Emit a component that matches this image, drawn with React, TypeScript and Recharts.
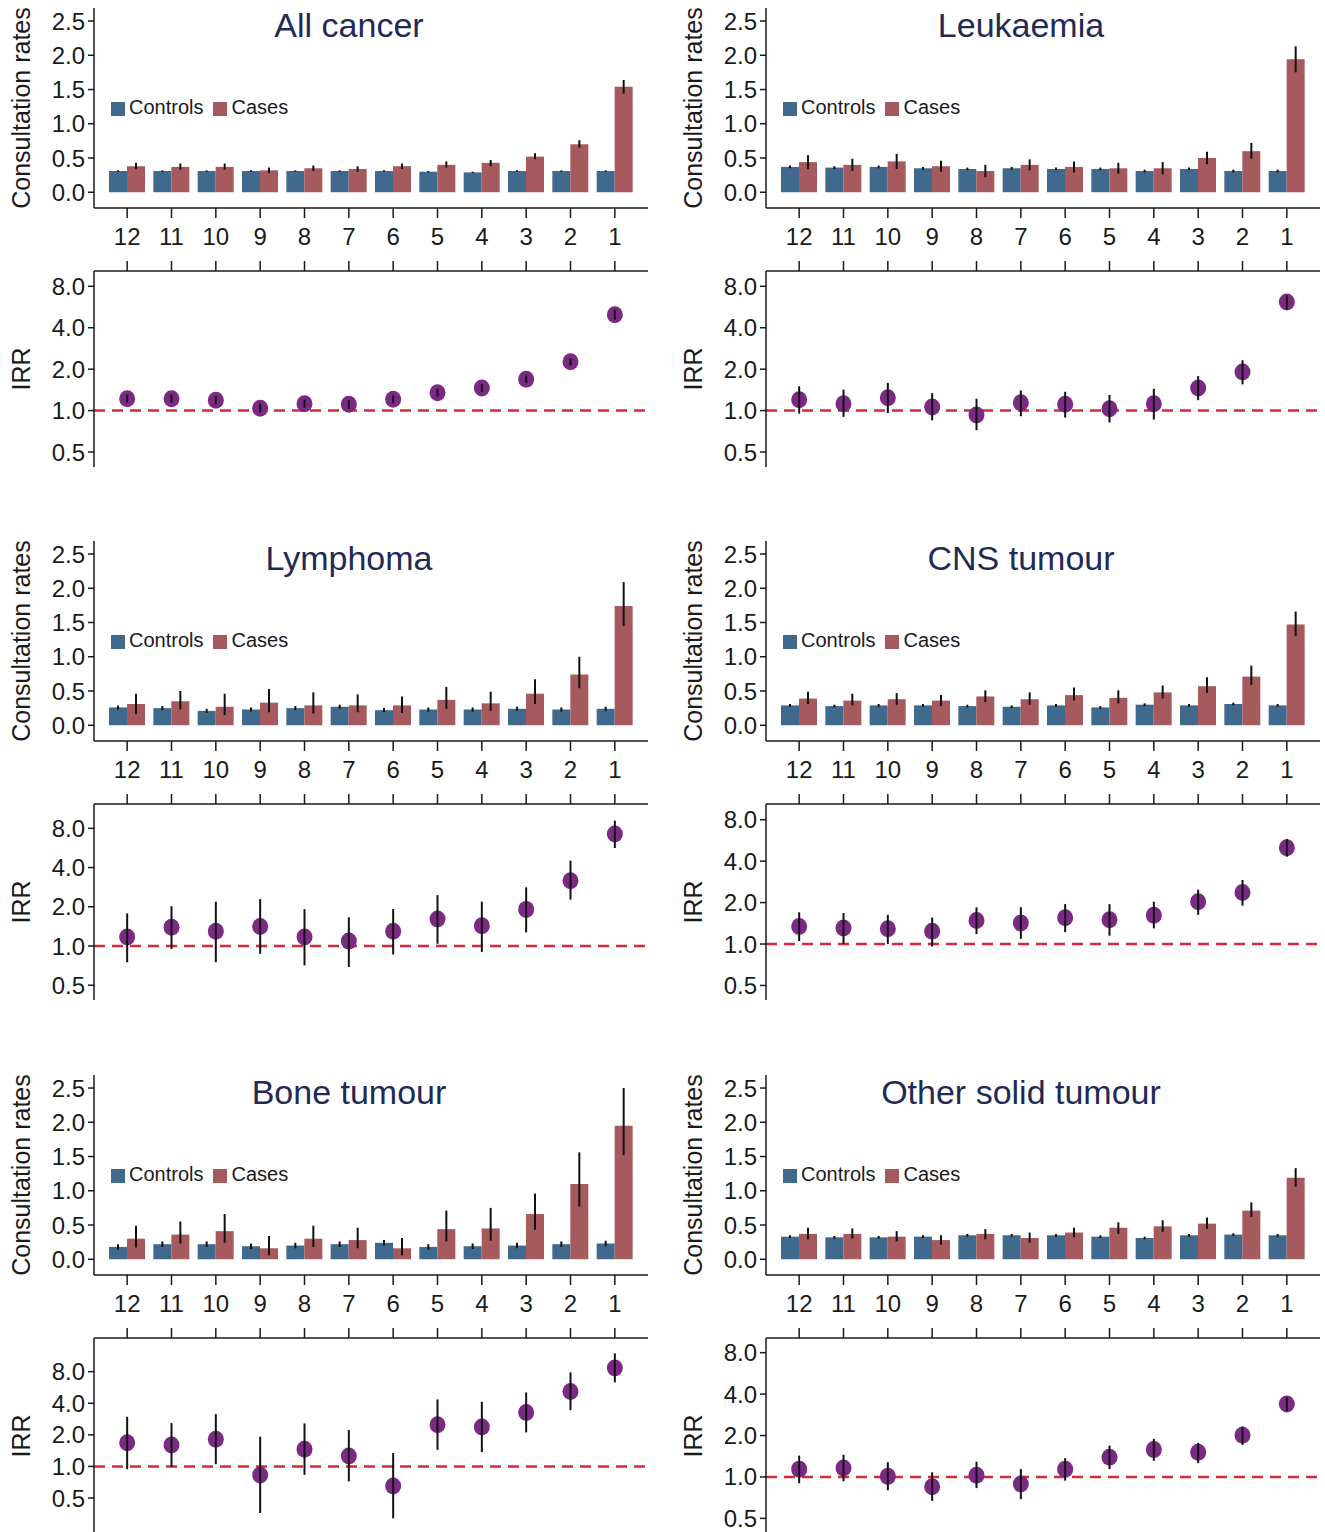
import React from "react";
import { Bar, ComposedChart, ErrorBar, Legend, ReferenceLine, Scatter, XAxis, YAxis } from "recharts";

const months = ["12", "11", "10", "9", "8", "7", "6", "5", "4", "3", "2", "1"];
const rateTicks = [0, 0.5, 1, 1.5, 2, 2.5];
const irrTicks = [0.5, 1, 2, 4, 8];

// All cancer
const allControls = [0.31, 0.31, 0.31, 0.31, 0.31, 0.31, 0.31, 0.3, 0.29, 0.31, 0.31, 0.31];
const allControlsErr = [0.01, 0.01, 0.01, 0.01, 0.01, 0.01, 0.01, 0.01, 0.01, 0.01, 0.01, 0.01];
const allCases = [0.38, 0.37, 0.37, 0.32, 0.35, 0.34, 0.38, 0.4, 0.43, 0.52, 0.7, 1.54];
const allCasesLo = [0.34, 0.33, 0.33, 0.28, 0.31, 0.3, 0.34, 0.36, 0.38, 0.48, 0.65, 1.44];
const allCasesHi = [0.43, 0.42, 0.42, 0.36, 0.39, 0.38, 0.42, 0.45, 0.47, 0.57, 0.76, 1.64];
const allIrr = [1.22, 1.22, 1.19, 1.04, 1.12, 1.11, 1.21, 1.35, 1.46, 1.69, 2.26, 4.98];
const allIrrLo = [1.14, 1.14, 1.11, 0.97, 1.05, 1.03, 1.13, 1.26, 1.37, 1.59, 2.13, 4.58];
const allIrrHi = [1.31, 1.31, 1.28, 1.12, 1.2, 1.19, 1.29, 1.44, 1.56, 1.8, 2.4, 5.4];

// Leukaemia
const leukControls = [0.37, 0.36, 0.37, 0.35, 0.34, 0.35, 0.34, 0.34, 0.31, 0.34, 0.31, 0.31];
const leukControlsErr = [0.02, 0.02, 0.02, 0.02, 0.02, 0.02, 0.02, 0.02, 0.02, 0.02, 0.02, 0.02];
const leukCases = [0.44, 0.4, 0.45, 0.38, 0.31, 0.4, 0.37, 0.35, 0.35, 0.5, 0.6, 1.94];
const leukCasesLo = [0.34, 0.31, 0.34, 0.3, 0.22, 0.32, 0.29, 0.27, 0.26, 0.41, 0.49, 1.75];
const leukCasesHi = [0.54, 0.49, 0.56, 0.46, 0.4, 0.48, 0.45, 0.43, 0.44, 0.59, 0.72, 2.13];
const leukIrr = [1.2, 1.12, 1.24, 1.06, 0.93, 1.14, 1.11, 1.03, 1.12, 1.46, 1.91, 6.16];
const leukIrrLo = [0.95, 0.9, 0.96, 0.85, 0.72, 0.91, 0.89, 0.82, 0.86, 1.19, 1.55, 5.42];
const leukIrrHi = [1.5, 1.42, 1.59, 1.34, 1.22, 1.4, 1.37, 1.3, 1.44, 1.78, 2.32, 6.88];

// Lymphoma
const lymControls = [0.26, 0.25, 0.21, 0.23, 0.25, 0.27, 0.22, 0.23, 0.23, 0.24, 0.23, 0.24];
const lymControlsErr = [0.03, 0.03, 0.03, 0.03, 0.03, 0.03, 0.03, 0.03, 0.03, 0.03, 0.03, 0.03];
const lymCases = [0.31, 0.35, 0.27, 0.33, 0.29, 0.29, 0.29, 0.37, 0.32, 0.46, 0.74, 1.74];
const lymCasesLo = [0.16, 0.23, 0.15, 0.19, 0.17, 0.19, 0.18, 0.24, 0.21, 0.31, 0.54, 1.45];
const lymCasesHi = [0.46, 0.5, 0.46, 0.53, 0.48, 0.45, 0.42, 0.56, 0.49, 0.67, 1.0, 2.09];
const lymIrr = [1.17, 1.39, 1.3, 1.41, 1.17, 1.09, 1.3, 1.61, 1.43, 1.91, 3.17, 7.23];
const lymIrrLo = [0.75, 0.95, 0.75, 0.87, 0.71, 0.69, 0.86, 1.04, 0.9, 1.27, 2.27, 5.65];
const lymIrrHi = [1.78, 2.02, 2.19, 2.29, 1.92, 1.66, 1.92, 2.46, 2.19, 2.82, 4.52, 9.16];

// CNS tumour
const cnsControls = [0.29, 0.28, 0.29, 0.29, 0.28, 0.27, 0.29, 0.26, 0.3, 0.29, 0.31, 0.29];
const cnsControlsErr = [0.02, 0.02, 0.02, 0.02, 0.02, 0.02, 0.02, 0.02, 0.02, 0.02, 0.02, 0.02];
const cnsCases = [0.39, 0.36, 0.38, 0.36, 0.42, 0.38, 0.44, 0.4, 0.48, 0.57, 0.71, 1.47];
const cnsCasesLo = [0.31, 0.29, 0.3, 0.28, 0.34, 0.3, 0.36, 0.32, 0.39, 0.47, 0.59, 1.3];
const cnsCasesHi = [0.49, 0.46, 0.47, 0.44, 0.51, 0.48, 0.55, 0.51, 0.58, 0.7, 0.87, 1.66];
const cnsIrr = [1.34, 1.31, 1.29, 1.24, 1.48, 1.42, 1.55, 1.5, 1.62, 2.03, 2.37, 5.01];
const cnsIrrLo = [1.05, 1.0, 1.0, 0.96, 1.18, 1.09, 1.22, 1.15, 1.3, 1.63, 1.9, 4.31];
const cnsIrrHi = [1.7, 1.68, 1.63, 1.56, 1.85, 1.85, 1.95, 1.95, 2.03, 2.48, 2.92, 5.8];

// Bone tumour
const boneControls = [0.18, 0.22, 0.22, 0.19, 0.2, 0.22, 0.24, 0.18, 0.19, 0.2, 0.22, 0.23];
const boneControlsErr = [0.04, 0.04, 0.04, 0.04, 0.04, 0.04, 0.04, 0.04, 0.04, 0.04, 0.04, 0.04];
const boneCases = [0.3, 0.36, 0.41, 0.16, 0.3, 0.28, 0.16, 0.44, 0.45, 0.66, 1.1, 1.95];
const boneCasesLo = [0.17, 0.23, 0.24, 0.06, 0.18, 0.16, 0.06, 0.26, 0.27, 0.43, 0.77, 1.52];
const boneCasesHi = [0.49, 0.55, 0.66, 0.34, 0.49, 0.46, 0.31, 0.71, 0.75, 0.96, 1.56, 2.5];
const boneIrr = [1.68, 1.6, 1.82, 0.83, 1.46, 1.26, 0.65, 2.5, 2.37, 3.27, 5.19, 8.65];
const boneIrrLo = [0.94, 0.99, 1.05, 0.36, 0.83, 0.72, 0.32, 1.44, 1.37, 2.11, 3.44, 6.32];
const boneIrrHi = [2.97, 2.59, 3.15, 1.92, 2.57, 2.22, 1.34, 4.35, 4.13, 5.07, 7.87, 11.94];

// Other solid tumour
const othControls = [0.33, 0.32, 0.32, 0.33, 0.35, 0.35, 0.35, 0.33, 0.31, 0.35, 0.36, 0.35];
const othControlsErr = [0.02, 0.02, 0.02, 0.02, 0.02, 0.02, 0.02, 0.02, 0.02, 0.02, 0.02, 0.02];
const othCases = [0.37, 0.37, 0.33, 0.28, 0.37, 0.31, 0.39, 0.46, 0.48, 0.52, 0.71, 1.19];
const othCasesLo = [0.29, 0.3, 0.26, 0.21, 0.29, 0.24, 0.32, 0.37, 0.4, 0.44, 0.62, 1.06];
const othCasesHi = [0.46, 0.45, 0.41, 0.35, 0.44, 0.39, 0.46, 0.54, 0.57, 0.61, 0.83, 1.33];
const othIrr = [1.14, 1.16, 1.01, 0.85, 1.03, 0.89, 1.14, 1.39, 1.58, 1.51, 2.01, 3.39];
const othIrrLo = [0.9, 0.93, 0.8, 0.67, 0.83, 0.69, 0.94, 1.14, 1.31, 1.26, 1.71, 3.0];
const othIrrHi = [1.43, 1.45, 1.28, 1.08, 1.29, 1.14, 1.37, 1.69, 1.89, 1.77, 2.33, 3.79];

const BLUE = "#3f6a8e";
const RED = "#a65a5e";
const PURPLE = "#7b2a83";
const DASH = "#d42a3c";
const INK = "#1a1a1a";
const TITLE = "#1f2a55";
const CW = 660;
const COLS = [0, 672];
const ROWS = [0, 533, 1067];

const panels = [
  { title: "All cancer", col: 0, row: 0, controls: allControls, controlsErr: allControlsErr, cases: allCases, casesLo: allCasesLo, casesHi: allCasesHi, irr: allIrr, irrLo: allIrrLo, irrHi: allIrrHi, irrDomain: [0.389, 10.34] },
  { title: "Leukaemia", col: 1, row: 0, controls: leukControls, controlsErr: leukControlsErr, cases: leukCases, casesLo: leukCasesLo, casesHi: leukCasesHi, irr: leukIrr, irrLo: leukIrrLo, irrHi: leukIrrHi, irrDomain: [0.389, 10.34] },
  { title: "Lymphoma", col: 0, row: 1, controls: lymControls, controlsErr: lymControlsErr, cases: lymCases, casesLo: lymCasesLo, casesHi: lymCasesHi, irr: lymIrr, irrLo: lymIrrLo, irrHi: lymIrrHi, irrDomain: [0.385, 12.3] },
  { title: "CNS tumour", col: 1, row: 1, controls: cnsControls, controlsErr: cnsControlsErr, cases: cnsCases, casesLo: cnsCasesLo, casesHi: cnsCasesHi, irr: cnsIrr, irrLo: cnsIrrLo, irrHi: cnsIrrHi, irrDomain: [0.392, 10.41] },
  { title: "Bone tumour", col: 0, row: 2, controls: boneControls, controlsErr: boneControlsErr, cases: boneCases, casesLo: boneCasesLo, casesHi: boneCasesHi, irr: boneIrr, irrLo: boneIrrLo, irrHi: boneIrrHi, irrDomain: [0.227, 16.75] },
  { title: "Other solid tumour", col: 1, row: 2, controls: othControls, controlsErr: othControlsErr, cases: othCases, casesLo: othCasesLo, casesHi: othCasesHi, irr: othIrr, irrLo: othIrrLo, irrHi: othIrrHi, irrDomain: [0.385, 10.23] },
];

type Panel = (typeof panels)[number];

const axisStyle = { stroke: INK, strokeWidth: 1.5 };
const tickStyle = { fill: INK, fontSize: 24 };
const hidden = { stroke: "none" };

function sideLabel(text: string) {
  return (props: any) => {
    const vb = props.viewBox || {};
    const x = (vb.x ?? 0) + 21;
    const y = (vb.y ?? 0) + (vb.height ?? 0) / 2;
    return (
      <text x={x} y={y} transform={`rotate(-90 ${x} ${y})`} textAnchor="middle" dominantBaseline="central" fontSize={25} fill={INK}>
        {text}
      </text>
    );
  };
}

const Dot = (props: any) => <ellipse cx={props.cx} cy={props.cy} rx={8} ry={8.5} fill={PURPLE} />;
const NoDot = () => <g />;

function RatesChart({ p }: { p: Panel }) {
  const rows = months.map((m, i) => ({
    month: m,
    controls: p.controls[i],
    controlsErr: p.controlsErr[i],
    cases: p.cases[i],
    casesErr: [p.cases[i] - p.casesLo[i], p.casesHi[i] - p.cases[i]],
  }));
  return (
    <ComposedChart width={CW} height={252} data={rows} margin={{ top: 8, right: 12, bottom: 0, left: 0 }} barGap={0} barSize={18}>
      <XAxis dataKey="month" type="category" scale="band" interval={0} padding={{ left: 11, right: 11 }} height={44} tickSize={10} tickMargin={10} axisLine={axisStyle} tickLine={axisStyle} tick={tickStyle} />
      <YAxis type="number" domain={[-0.23, 2.69]} allowDataOverflow ticks={rateTicks} interval={0} width={94} tickSize={6} tickMargin={3} tickFormatter={(v: number) => v.toFixed(1)} axisLine={axisStyle} tickLine={axisStyle} tick={tickStyle} label={sideLabel("Consultation rates")} />
      <Legend
        layout="horizontal"
        verticalAlign="middle"
        align="center"
        iconType="square"
        iconSize={14}
        itemSorter={(item: any) => (item.dataKey === "controls" ? 0 : 1)}
        wrapperStyle={{ left: 111, top: 96, width: "auto", fontSize: 20, lineHeight: "22px" }}
        formatter={(v: string) => <span style={{ color: INK }}>{v}</span>}
      />
      <Bar dataKey="controls" name="Controls" fill={BLUE} isAnimationActive={false}>
        <ErrorBar dataKey="controlsErr" width={0} stroke="#111" strokeWidth={2} />
      </Bar>
      <Bar dataKey="cases" name="Cases" fill={RED} isAnimationActive={false}>
        <ErrorBar dataKey="casesErr" width={0} stroke="#111" strokeWidth={2} />
      </Bar>
    </ComposedChart>
  );
}

function IrrChart({ p, layer }: { p: Panel; layer: "dots" | "bars" }) {
  const rows = months.map((m, i) => ({
    month: m,
    irr: p.irr[i],
    irrErr: [p.irr[i] - p.irrLo[i], p.irrHi[i] - p.irr[i]],
  }));
  const base = layer === "dots";
  return (
    <ComposedChart width={CW} height={216} data={rows} margin={{ top: 0, right: 12, bottom: 0, left: 0 }}>
      <XAxis dataKey="month" type="category" scale="band" orientation="top" interval={0} padding={{ left: 11, right: 11 }} height={20} tickSize={10} tickFormatter={() => ""} axisLine={base ? axisStyle : hidden} tickLine={base ? axisStyle : hidden} />
      <YAxis type="number" scale="log" domain={p.irrDomain} allowDataOverflow ticks={irrTicks} interval={0} width={94} tickSize={6} tickMargin={3} tickFormatter={(v: number) => (base ? v.toFixed(1) : "")} axisLine={base ? axisStyle : hidden} tickLine={base ? axisStyle : hidden} tick={tickStyle} label={base ? sideLabel("IRR") : undefined} />
      {base && <ReferenceLine y={1} stroke={DASH} strokeWidth={2.5} strokeDasharray="11 7" />}
      {base ? (
        <Scatter dataKey="irr" fill={PURPLE} shape={Dot} isAnimationActive={false} />
      ) : (
        <Scatter dataKey="irr" shape={NoDot} isAnimationActive={false}>
          <ErrorBar dataKey="irrErr" direction="y" width={0} stroke="#111" strokeWidth={2} />
        </Scatter>
      )}
    </ComposedChart>
  );
}

export default function App() {
  return (
    <div style={{ position: "absolute", left: 0, top: 0, width: 1325, height: 1532, overflow: "hidden", background: "#fff", fontFamily: "'Liberation Sans', Arial, sans-serif" }}>
      {panels.map((p) => {
        const left = COLS[p.col];
        const top = ROWS[p.row];
        return (
          <React.Fragment key={p.title}>
            <div style={{ position: "absolute", left, top }}>
              <RatesChart p={p} />
            </div>
            <div style={{ position: "absolute", left, top: top + 251 }}>
              <IrrChart p={p} layer="dots" />
            </div>
            <div style={{ position: "absolute", left, top: top + 251 }}>
              <IrrChart p={p} layer="bars" />
            </div>
            <div style={{ position: "absolute", left: left + 149, top: top + 8, width: 400, textAlign: "center", fontSize: 34, lineHeight: "34px", color: TITLE }}>
              {p.title}
            </div>
          </React.Fragment>
        );
      })}
    </div>
  );
}
